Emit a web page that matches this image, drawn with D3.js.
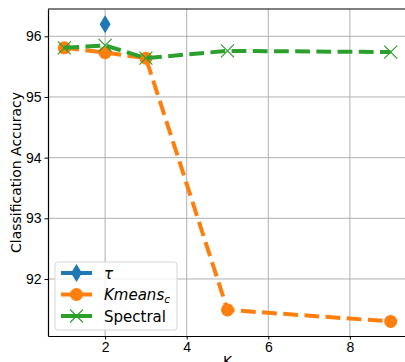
<!DOCTYPE html>
<html>
<head>
<meta charset="utf-8">
<script src="https://cdn.jsdelivr.net/npm/d3@7"></script>
<style>
  body { margin: 0; background: #fff; }
  svg { display: block; font-family: "DejaVu Sans", sans-serif; }
  .axis path, .axis line { stroke: #000; }
  .axis text { font-size: 14px; fill: #000; }
</style>
</head>
<body>
<svg id="chart"></svg>
<script>
// data
const tauK = [2];
const tauAcc = [96.2];
const kmeansK = [1, 2, 3, 5, 9];
const kmeansAcc = [95.81, 95.73, 95.64, 91.49, 91.3];
const spectralK = [1, 2, 3, 5, 9];
const spectralAcc = [95.81, 95.85, 95.64, 95.76, 95.74];
const xTicks = [2, 4, 6, 8];
const yTicks = [92, 93, 94, 95, 96];

const W = 405, H = 362;
const margin = {top: 9, left: 48, bottom: 26, right: -2};

const svg = d3.select('#chart').attr('width', W).attr('height', H);

const xScale = d3.scaleLinear().domain([0.6, 9.4]).range([margin.left, W - margin.right]);
const yScale = d3.scaleLinear().domain([91.06, 96.45]).range([H - margin.bottom, margin.top]);

// grid
svg.append('g').selectAll('line').data(xTicks).join('line')
    .attr('x1', d => xScale(d)).attr('x2', d => xScale(d))
    .attr('y1', yScale.range()[0]).attr('y2', yScale.range()[1])
    .attr('stroke', '#b0b0b0').attr('stroke-width', 1);
svg.append('g').selectAll('line').data(yTicks).join('line')
    .attr('y1', d => yScale(d)).attr('y2', d => yScale(d))
    .attr('x1', xScale.range()[0]).attr('x2', xScale.range()[1])
    .attr('stroke', '#b0b0b0').attr('stroke-width', 1);

// axes
const xAxisG = svg.append('g').attr('class', 'axis')
    .attr('transform', `translate(0,${H - margin.bottom})`)
    .call(d3.axisBottom(xScale).tickValues(xTicks).tickFormat(d3.format('d'))
      .tickSize(3.5).tickPadding(3).tickSizeOuter(0));
const yAxisG = svg.append('g').attr('class', 'axis')
    .attr('transform', `translate(${margin.left},0)`)
    .call(d3.axisLeft(yScale).tickValues(yTicks).tickFormat(d3.format('d'))
      .tickSize(3.5).tickPadding(3).tickSizeOuter(0));
xAxisG.select('.domain').attr('stroke-width', 1.2);
yAxisG.select('.domain').attr('stroke-width', 1.2);
// top spine
svg.append('line')
    .attr('x1', margin.left).attr('x2', W)
    .attr('y1', margin.top).attr('y2', margin.top)
    .attr('stroke', '#000').attr('stroke-width', 1.2);

// labels
svg.append('text')
    .attr('transform', `translate(21,${(margin.top + H - margin.bottom) / 2}) rotate(-90)`)
    .attr('text-anchor', 'middle').attr('font-size', 14)
    .text('Classification Accuracy');
svg.append('text')
    .attr('x', (margin.left + 407) / 2).attr('y', H + 4)
    .attr('text-anchor', 'middle').attr('font-size', 14)
    .text('K');

const colors = ['#1f77b4', '#ff7f0e', '#2ca02c'];
const line = d3.line().x(d => xScale(d[0])).y(d => yScale(d[1]));

function drawMarker(g, type, x, y, color) {
  if (type === 'diamond') {
    g.append('path')
      .attr('d', `M${x},${y - 9}L${x + 5.5},${y}L${x},${y + 9}L${x - 5.5},${y}Z`)
      .attr('fill', color);
  } else if (type === 'circle') {
    g.append('circle').attr('cx', x).attr('cy', y).attr('r', 6.5).attr('fill', color);
  } else {
    const s = 6.5;
    g.append('path')
      .attr('d', `M${x - s},${y - s}L${x + s},${y + s}M${x - s},${y + s}L${x + s},${y - s}`)
      .attr('stroke', color).attr('stroke-width', 1.2).attr('fill', 'none');
  }
}

const series = [
  {k: tauK, acc: tauAcc, marker: 'diamond', dash: null},
  {k: kmeansK, acc: kmeansAcc, marker: 'circle', dash: '14.8,6.4'},
  {k: spectralK, acc: spectralAcc, marker: 'x', dash: '14.8,6.4'}
];

const plot = svg.append('g');
series.forEach((s, i) => {
  const pts = s.k.map((k, j) => [k, s.acc[j]]);
  const g = plot.append('g');
  g.append('path').datum(pts)
    .attr('d', line)
    .attr('fill', 'none')
    .attr('stroke', colors[i])
    .attr('stroke-width', 4)
    .attr('stroke-dasharray', s.dash);
  pts.forEach(p => drawMarker(g, s.marker, xScale(p[0]), yScale(p[1]), colors[i]));
});

// legend
const lg = svg.append('g').attr('transform', 'translate(55,262)');
lg.append('rect')
    .attr('width', 122).attr('height', 68).attr('rx', 3)
    .attr('fill', 'rgba(255,255,255,0.8)').attr('stroke', '#d6d6d6').attr('stroke-width', 1);
const labels = ['τ', 'Kmeans', 'Spectral'];
series.forEach((s, i) => {
  const y = 11 + i * 21.5;
  lg.append('line').attr('x1', 6).attr('x2', 37).attr('y1', y).attr('y2', y)
    .attr('stroke', colors[i]).attr('stroke-width', 4);
  drawMarker(lg, s.marker, 21.5, y, colors[i]);
  const t = lg.append('text').attr('x', 49).attr('y', y + 5.5).attr('font-size', 15);
  if (i === 0) {
    t.attr('font-style', 'italic').text(labels[i]);
  } else if (i === 1) {
    t.attr('font-style', 'italic').text(labels[i]);
    t.append('tspan').attr('font-size', 10.5).attr('dy', 3).text('c');
  } else {
    t.text(labels[i]);
  }
});
</script>
</body>
</html>
